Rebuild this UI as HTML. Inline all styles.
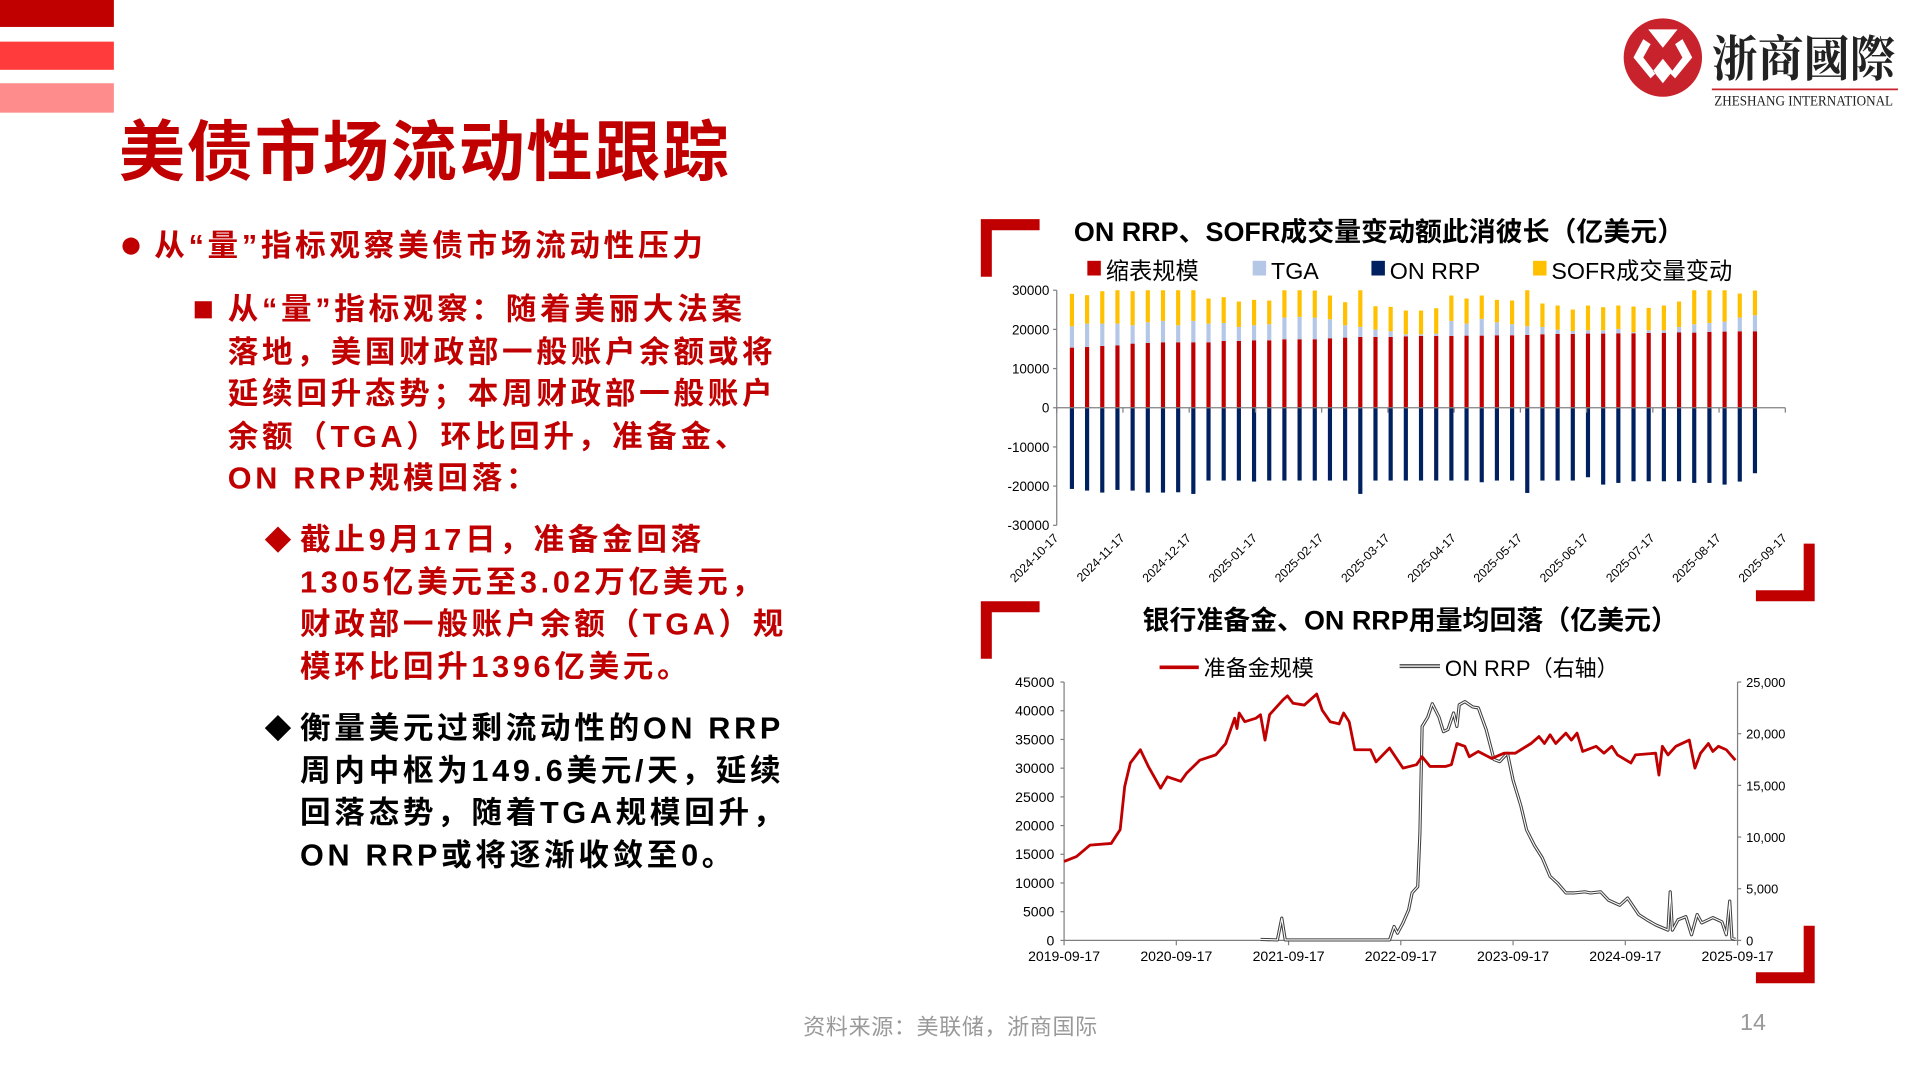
<!DOCTYPE html>
<html><head><meta charset="utf-8">
<style>
html,body{margin:0;padding:0;background:#fff;width:1920px;height:1080px;overflow:hidden}
#stage{position:absolute;left:0;top:0;width:1568px;height:882px;transform:scale(1.22449);transform-origin:0 0;font-family:"Liberation Sans","Noto Sans CJK SC",sans-serif}
.abs{position:absolute}
.red{color:#c00000}
.txt{font-weight:bold;font-size:25px;white-space:nowrap;letter-spacing:3px;line-height:34.5px}
</style></head>
<body>
<div id="stage">
  <div class="abs" style="left:0;top:0;width:93px;height:22px;background:#c00000"></div>
  <div class="abs" style="left:0;top:34px;width:93px;height:23px;background:#ff3b3b"></div>
  <div class="abs" style="left:0;top:68px;width:93px;height:24px;background:#ff8c8c"></div>
  <div class="abs red" style="left:97px;top:80px;font-size:54px;font-weight:bold;letter-spacing:1.5px;white-space:nowrap">美债市场流动性跟踪</div>

  <svg class="abs" style="left:1320px;top:12px" width="240" height="80">
    <circle cx="38" cy="35" r="32" fill="#c8232c"/>
    <path d="M26 12 L50 12 L38 27 Z M22 20 L14 35 L28 52 L32 48 L22 35 L28 24 Z M54 20 L62 35 L48 52 L44 48 L54 35 L48 24 Z M38 36 L46 46 L38 56 L30 46 Z" fill="#fff"/>
    <text x="78" y="50" font-family="'Noto Serif CJK SC','Liberation Serif',serif" font-weight="bold" font-size="40" fill="#222" textLength="150" lengthAdjust="spacingAndGlyphs">浙商國際</text>
    <line x1="78" y1="61" x2="230" y2="61" stroke="#c8232c" stroke-width="1.5"/>
    <text x="80" y="74" font-family="'Liberation Serif',serif" font-size="12" fill="#222" textLength="146" lengthAdjust="spacingAndGlyphs">ZHESHANG INTERNATIONAL</text>
  </svg>

  <div class="abs" style="left:100px;top:194px;width:14px;height:14px;border-radius:50%;background:#c00000"></div>
  <div class="abs red txt" style="left:126px;top:184px">从“量”指标观察美债市场流动性压力</div>
  <div class="abs" style="left:159px;top:246px;width:14px;height:14px;background:#c00000"></div>
  <div class="abs red txt" style="left:186px;top:236px">从“量”指标观察：随着美丽大法案<br>落地，美国财政部一般账户余额或将<br>延续回升态势；本周财政部一般账户<br>余额（TGA）环比回升，准备金、<br>ON RRP规模回落：</div>
  <div class="abs red" style="left:216px;top:424px;font-size:22px">◆</div>
  <div class="abs red txt" style="left:245px;top:424px">截止9月17日，准备金回落<br>1305亿美元至3.02万亿美元，<br>财政部一般账户余额（TGA）规<br>模环比回升1396亿美元。</div>
  <div class="abs" style="left:216px;top:578px;font-size:22px;color:#000">◆</div>
  <div class="abs txt" style="left:245px;top:578px;color:#000">衡量美元过剩流动性的ON RRP<br>周内中枢为149.6美元/天，延续<br>回落态势，随着TGA规模回升，<br>ON RRP或将逐渐收敛至0。</div>

  <div class="abs" style="left:656px;top:825px;font-size:18px;color:#999;white-space:nowrap;letter-spacing:0.5px">资料来源：美联储，浙商国际</div>
  <div class="abs" style="left:1421px;top:825px;font-size:19px;color:#999">14</div>

  <svg id="c1" class="abs" style="left:0;top:0" width="1568" height="882"></svg>
</div>
<script>
// ===== Chart 1 data =====
const c1Dates = ["2024-10-17","2024-11-17","2024-12-17","2025-01-17","2025-02-17","2025-03-17","2025-04-17","2025-05-17","2025-06-17","2025-07-17","2025-08-17","2025-09-17"];
const c1Ticks = [30000,20000,10000,0,-10000,-20000,-30000];
const qtValues = [15350,15500,15770,15940,16370,16540,16710,16710,16710,16710,17050,17050,17220,17220,17480,17480,17480,17730,17900,18070,18070,18070,18240,18330,18330,18330,18410,18410,18500,18500,18580,18760,18840,18840,18930,18930,19010,19010,19100,19100,19270,19180,19350,19440,19520,19520];
const tgaValues = [5450,5980,5710,5540,4690,5280,5460,4350,5460,4770,4600,3580,3840,4090,5540,5710,5540,4860,3160,2560,1880,1450,520,430,600,3840,3070,4270,3320,2810,2220,1870,1110,770,850,850,1110,260,680,680,1360,2130,2300,2550,3500,4090];
const sofrValues = [8270,7250,8270,9020,8690,8680,8330,9440,8330,6400,6570,6480,6480,6060,7480,7310,6900,6050,5880,9870,5970,6230,6050,6050,6470,6470,6400,5960,5720,6060,9700,5970,6140,5450,6310,5880,5970,6560,5710,6310,6480,9190,8850,8510,6130,6310];
const rrpValues = [-20720,-21140,-21650,-20970,-21140,-21650,-21650,-21570,-21990,-18580,-18580,-18580,-18840,-18580,-18580,-18580,-18580,-18580,-18580,-21990,-18580,-18580,-18580,-18580,-18580,-18580,-18580,-19010,-18580,-18580,-21740,-18580,-18580,-18580,-17730,-19610,-19180,-18760,-18760,-18760,-18760,-19180,-19180,-19610,-18840,-16710];
const c1Legend = ["缩表规模","TGA","ON RRP","SOFR成交量变动"];

// ===== Chart 2 data (t = years since 2019-09-17) =====
const c2Labels = ["2019-09-17","2020-09-17","2021-09-17","2022-09-17","2023-09-17","2024-09-17","2025-09-17"];
const c2LeftTicks = [0,5000,10000,15000,20000,25000,30000,35000,40000,45000];
const c2RightTicks = [0,5000,10000,15000,20000,25000];
const c2RightTickLabels = ["0","5,000","10,000","15,000","20,000","25,000"];
const resT = [0,.11,.23,.42,.50,.54,.59,.68,.75,.86,.92,1.04,1.09,1.21,1.35,1.44,1.52,1.54,1.56,1.61,1.71,1.75,1.79,1.83,1.95,1.99,2.04,2.14,2.25,2.30,2.37,2.45,2.49,2.54,2.59,2.73,2.78,2.90,3.02,3.14,3.19,3.26,3.40,3.45,3.50,3.57,3.61,3.69,3.81,3.92,4.02,4.16,4.23,4.28,4.33,4.38,4.47,4.52,4.57,4.62,4.74,4.81,4.88,4.93,5.05,5.09,5.27,5.30,5.33,5.38,5.45,5.57,5.62,5.67,5.74,5.78,5.83,5.90,5.98];
const resV = [13750,14600,16600,16900,19300,26800,30900,33200,30300,26500,28500,27700,29100,31400,32300,34300,38700,36900,39600,38100,38700,39300,34900,39300,41900,42600,41300,41000,42900,40100,38100,37700,39600,38100,33200,33200,31100,33500,30000,30600,32000,30300,30300,30600,34300,33800,32000,32900,31700,32600,32600,34300,35500,34300,35800,34300,36100,34900,36100,32900,33800,32600,33800,32300,30900,32300,32600,28800,33800,32300,33800,34900,30000,32600,34300,32900,33800,33200,31400];
const rrpT = [1.75,1.90,1.94,1.97,2.11,2.90,2.94,2.97,3.02,3.07,3.10,3.15,3.17,3.19,3.24,3.28,3.34,3.38,3.42,3.47,3.50,3.52,3.57,3.64,3.69,3.76,3.83,3.88,3.95,4.00,4.07,4.12,4.19,4.26,4.33,4.40,4.47,4.54,4.64,4.69,4.78,4.85,4.95,5.02,5.12,5.19,5.27,5.38,5.40,5.42,5.47,5.54,5.59,5.64,5.68,5.78,5.86,5.90,5.93,5.95,5.98];
const rrpV = [100,50,2160,50,50,50,1350,700,1700,2960,4600,5200,10400,20700,21600,22900,21600,20200,20400,22000,20700,22800,23100,22600,22500,20400,17500,17300,18100,15500,13000,10700,9200,8000,6200,5500,4600,4600,4700,4600,4700,3900,3400,4100,2500,2000,1500,1000,4700,1000,2000,2300,550,2500,1700,2200,1800,550,3800,200,100];

const NS = "http://www.w3.org/2000/svg";
const svg = document.getElementById('c1');
function mk(tag, attrs, parent, text){
  const e = document.createElementNS(NS, tag);
  for (const k in attrs) e.setAttribute(k, attrs[k]);
  if (text !== undefined) e.textContent = text;
  (parent||svg).appendChild(e);
  return e;
}
const FONT = "'Liberation Sans','Noto Sans CJK SC',sans-serif";

function bracket(x,y,flip,name){
  const g = mk('g',{});
  
  
  if(!flip){ mk('path',{d:`M${x} ${y} h48 v9 h-39 v38 h-9 Z`,fill:'#c00000'},g); }
  else { mk('path',{d:`M${x} ${y} h-48 v-9 h39 v-38 h9 Z`,fill:'#c00000'},g); }
}
bracket(801,179,false,'chart1-bracket-top');
bracket(1482,491,true,'chart1-bracket-bottom');
bracket(801,491,false,'chart2-bracket-top');
bracket(1482,803,true,'chart2-bracket-bottom');

// ===== Chart 1 =====
const t1 = mk('text',{x:877,y:197,'font-family':FONT,'font-weight':'bold','font-size':22,fill:'#000'},svg,'ON RRP、SOFR成交量变动额此消彼长（亿美元）');


const legCols = ['#c00000','#b4c7e7','#002060','#ffc000'];
const legX = [888,1023,1120,1252];
c1Legend.forEach((s,i)=>{
  const g = mk('g',{});
  
  
  mk('rect',{x:legX[i],y:213,width:11,height:12,fill:legCols[i]},g);
  mk('text',{x:legX[i]+15,y:228,'font-family':FONT,'font-size':19,fill:'#000'},g,s);
});
const p1 = {x0:863,x1:1458,yTop:237,yBot:429,vMax:30000,vMin:-30000};
const y1 = v => p1.yTop + (p1.vMax - v)/(p1.vMax-p1.vMin)*(p1.yBot-p1.yTop);
const slot = (p1.x1-p1.x0)/48;
const x1 = i => p1.x0 + (i+1)*slot;
mk('defs',{}).innerHTML = '<clipPath id="clip1"><rect x="863" y="237" width="600" height="193"/></clipPath>';
const bars = mk('g',{'clip-path':'url(#clip1)'});
const bw = 3.4;
qtValues.forEach((v,i)=>{
  const base = y1(0), top1 = y1(v), top2 = y1(v+tgaValues[i]), top3 = y1(v+tgaValues[i]+sofrValues[i]);
  const r1 = mk('rect',{x:x1(i)-bw/2,y:top1,width:bw,height:base-top1,fill:'#c00000'},bars);
  
  
  const r2 = mk('rect',{x:x1(i)-bw/2,y:top2,width:bw,height:top1-top2,fill:'#b4c7e7'},bars);
  
  
  const r3 = mk('rect',{x:x1(i)-bw/2,y:top3,width:bw,height:top2-top3,fill:'#ffc000'},bars);
  
  
  const r4 = mk('rect',{x:x1(i)-bw/2,y:base,width:bw,height:y1(rrpValues[i])-base,fill:'#002060'},bars);
  
  
});
const ax1 = mk('g',{});


mk('line',{x1:p1.x0,y1:p1.yTop,x2:p1.x0,y2:p1.yBot,stroke:'#808080','stroke-width':1},ax1);
mk('line',{x1:p1.x0,y1:y1(0),x2:p1.x1,y2:y1(0),stroke:'#808080','stroke-width':1},ax1);
c1Ticks.forEach(v=>{
  mk('line',{x1:p1.x0-3,y1:y1(v),x2:p1.x0,y2:y1(v),stroke:'#808080'},ax1);
  const t = mk('text',{x:p1.x0-6,y:y1(v)+4,'text-anchor':'end','font-family':FONT,'font-size':11,fill:'#000'},ax1,String(v));
  
  
});
const dStep = (p1.x1-p1.x0)/(c1Dates.length-1);
c1Dates.forEach((d,i)=>{
  const x = p1.x0 + i*dStep + 2;
  mk('line',{x1:x-2,y1:y1(0),x2:x-2,y2:y1(0)+4,stroke:'#808080'},ax1);
  const t = mk('text',{x:x,y:440,'text-anchor':'end','font-family':FONT,'font-size':10,fill:'#000',transform:`rotate(-45 ${x} 440)`},ax1,d);
  
  
});

// ===== Chart 2 =====
const t2 = mk('text',{x:933,y:514,'font-family':FONT,'font-weight':'bold','font-size':22,fill:'#000'},svg,'银行准备金、ON RRP用量均回落（亿美元）');


const lg1 = mk('g',{});


mk('line',{x1:947,y1:545,x2:979,y2:545,stroke:'#c00000','stroke-width':3},lg1);
mk('text',{x:983,y:552,'font-family':FONT,'font-size':18,fill:'#000'},lg1,'准备金规模');
const lg2 = mk('g',{});


mk('line',{x1:1143,y1:544,x2:1176,y2:544,stroke:'#444','stroke-width':3.2},lg2);
mk('line',{x1:1143,y1:544,x2:1176,y2:544,stroke:'#fff','stroke-width':1},lg2);
mk('text',{x:1180,y:552,'font-family':FONT,'font-size':18,fill:'#000'},lg2,'ON RRP（右轴）');

const p2 = {x0:869,x1:1419,yTop:557,yBot:768,lMax:45000,rMax:25000,years:6};
const xs2 = t => p2.x0 + t/p2.years*(p2.x1-p2.x0);
const yl2 = v => p2.yBot - v/p2.lMax*(p2.yBot-p2.yTop);
const yr2 = v => p2.yBot - v/p2.rMax*(p2.yBot-p2.yTop);
const ax2 = mk('g',{});


mk('line',{x1:p2.x0,y1:p2.yTop,x2:p2.x0,y2:p2.yBot,stroke:'#808080'},ax2);
mk('line',{x1:p2.x1,y1:p2.yTop,x2:p2.x1,y2:p2.yBot,stroke:'#808080'},ax2);
mk('line',{x1:p2.x0,y1:p2.yBot,x2:p2.x1,y2:p2.yBot,stroke:'#808080'},ax2);
c2LeftTicks.forEach(v=>{
  mk('line',{x1:p2.x0-3,y1:yl2(v),x2:p2.x0,y2:yl2(v),stroke:'#808080'},ax2);
  const t = mk('text',{x:p2.x0-8,y:yl2(v)+4,'text-anchor':'end','font-family':FONT,'font-size':11.5,fill:'#000'},ax2,String(v));
  
  
});
c2RightTicks.forEach((v,i)=>{
  mk('line',{x1:p2.x1,y1:yr2(v),x2:p2.x1+3,y2:yr2(v),stroke:'#808080'},ax2);
  const t = mk('text',{x:p2.x1+7,y:yr2(v)+4,'font-family':FONT,'font-size':10.5,fill:'#000'},ax2,c2RightTickLabels[i]);
  
  
});
c2Labels.forEach((d,i)=>{
  const x = xs2(i);
  mk('line',{x1:x,y1:p2.yBot,x2:x,y2:p2.yBot+4,stroke:'#808080'},ax2);
  const t = mk('text',{x:x,y:785,'text-anchor':'middle','font-family':FONT,'font-size':11.5,fill:'#000'},ax2,d);
  
  
});
const rrpPts = rrpT.map((t,i)=>xs2(t).toFixed(1)+','+yr2(rrpV[i]).toFixed(1)).join(' ');
const rrpOuter = mk('polyline',{points:rrpPts,fill:'none',stroke:'#404040','stroke-width':2.6,'stroke-linejoin':'round'});


mk('polyline',{points:rrpPts,fill:'none',stroke:'#fff','stroke-width':0.9,'stroke-linejoin':'round'});
const resPts = resT.map((t,i)=>xs2(t).toFixed(1)+','+yl2(resV[i]).toFixed(1)).join(' ');
const resLine = mk('polyline',{points:resPts,fill:'none',stroke:'#c00000','stroke-width':2.3,'stroke-linejoin':'round'});


</script>
</body></html>
